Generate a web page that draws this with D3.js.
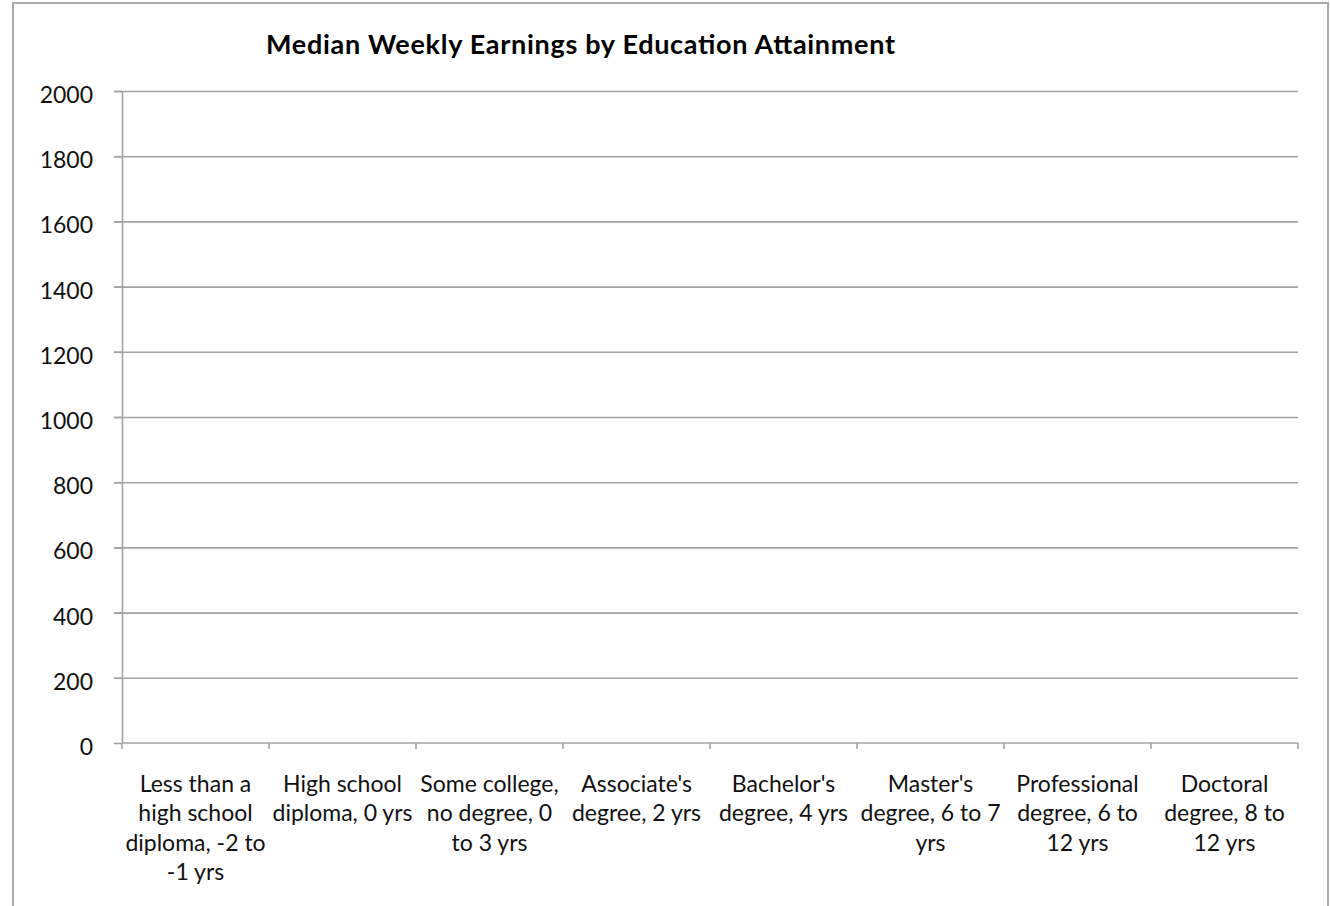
<!DOCTYPE html>
<html>
  <head>
    <meta charset="utf-8">
    <title>Median Weekly Earnings by Education Attainment</title>
    <script src="https://cdn.jsdelivr.net/npm/d3@7"></script>
    <style>
      body { margin: 0; background: #fff; }
      #chart { display: block; font-family: Lato, "Open Sans", sans-serif; }
      .frame { fill: #fff; stroke: #ababab; stroke-width: 2; }
      .title { font-size: 27px; font-weight: bold; fill: #000; }
      .grid line { stroke: #a3a3a3; stroke-width: 1.6; }
      .grid .domain { display: none; }
      .axis path, .axis line { stroke: #a3a3a3; stroke-width: 1.6; }
      .axis text { font-family: Lato, "Open Sans", sans-serif; font-size: 23px; fill: #111; }
    </style>
  </head>

  <body>
    <svg id="chart" width="1330" height="906"></svg>

    <script>
      // data (the series has no values plotted in the source)
      categories = [
        "Less than a\nhigh school\ndiploma, -2 to\n-1 yrs",
        "High school\ndiploma, 0 yrs",
        "Some college,\nno degree, 0\nto 3 yrs",
        "Associate's\ndegree, 2 yrs",
        "Bachelor's\ndegree, 4 yrs",
        "Master's\ndegree, 6 to 7\nyrs",
        "Professional\ndegree, 6 to\n12 yrs",
        "Doctoral\ndegree, 8 to\n12 yrs"
      ];
      earnings = [null, null, null, null, null, null, null, null];
      yTicks = [0, 200, 400, 600, 800, 1000, 1200, 1400, 1600, 1800, 2000];
      title = "Median Weekly Earnings by Education Attainment";

      // elements
      chart = d3.select("#chart");
      margin = { top: 91, right: 32, bottom: 163, left: 122 };
      width = 1330;
      height = 906;

      chart.append("rect")
        .classed("frame", true)
        .attr("x", 13)
        .attr("y", 3)
        .attr("width", 1315)
        .attr("height", 920);

      x = d3.scaleBand()
        .domain(categories)
        .range([margin.left, width - margin.right])
        .padding(0);

      y = d3.scaleLinear()
        .domain([0, 2000])
        .range([height - margin.bottom, margin.top]);

      // gridlines
      chart.append("g")
        .classed("grid", true)
        .attr("transform", "translate(" + (margin.left - 8) + ",0)")
        .call(d3.axisRight(y)
          .tickValues(yTicks.slice(1))
          .tickSize(width - margin.right - margin.left + 8)
          .tickFormat(""));

      // bars (none have values)
      chart.append("g")
        .selectAll("rect")
          .data(categories.map((c, i) => ({ cat: c, value: earnings[i] })).filter(d => d.value != null))
        .enter().append("rect")
          .attr("x", d => x(d.cat) + x.bandwidth() * 0.2)
          .attr("y", d => y(d.value))
          .attr("width", x.bandwidth() * 0.6)
          .attr("height", d => y(0) - y(d.value))
          .style("fill", "#4f81bd");

      // y axis
      yAxis = chart.append("g")
        .classed("axis", true)
        .attr("transform", "translate(" + margin.left + ",0)")
        .call(d3.axisLeft(y)
          .tickValues(yTicks)
          .tickFormat(d3.format("d"))
          .tickSize(8)
          .tickSizeOuter(0)
          .tickPadding(21));

      yAxis.selectAll("text")
        .attr("dy", "0.5em");

      // x axis with ticks between categories
      xAxis = chart.append("g")
        .classed("axis", true)
        .attr("transform", "translate(0," + y(0) + ")");

      xAxis.append("line")
        .attr("x1", margin.left)
        .attr("x2", width - margin.right);

      xAxis.selectAll(".sep")
        .data(categories.concat([null]))
        .enter().append("line")
          .classed("sep", true)
          .attr("x1", (d, i) => margin.left + i * x.bandwidth())
          .attr("x2", (d, i) => margin.left + i * x.bandwidth())
          .attr("y1", 0)
          .attr("y2", 6);

      xAxis.selectAll(".cat")
        .data(categories)
        .enter().append("text")
          .classed("cat", true)
          .attr("text-anchor", "middle")
          .attr("transform", d => "translate(" + (x(d) + x.bandwidth() / 2) + ",49)")
          .selectAll("tspan")
            .data(d => d.split("\n"))
          .enter().append("tspan")
            .attr("x", 0)
            .attr("dy", (d, i) => i == 0 ? 0 : 29.3)
            .text(d => d);

      chart.append("text")
        .classed("title", true)
        .attr("x", 580.5)
        .attr("y", 54)
        .attr("text-anchor", "middle")
        .attr("textLength", 629)
        .attr("lengthAdjust", "spacing")
        .text(title);
    </script>
  </body>
</html>
